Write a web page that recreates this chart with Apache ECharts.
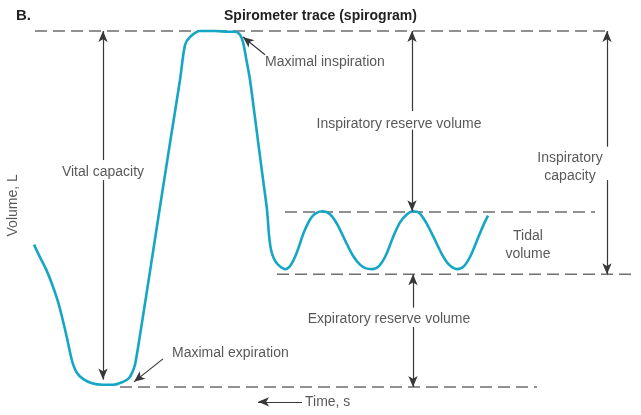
<!DOCTYPE html>
<html>
<head>
<meta charset="utf-8">
<script src="https://cdn.jsdelivr.net/npm/echarts@6/dist/echarts.min.js"></script>
<style>html,body{margin:0;padding:0;background:#fff;}#c{width:641px;height:415px;}</style>
</head>
<body>
<div id="c"></div>
<script>
// Spirogram trace: time (s) vs volume (L)
const curveTime = [0,0.6,1.2,1.8,2.4,2.9,3.3,3.6,3.9,4.3,4.9,5.8,6.9,7.9,8.9,9.5,9.8,10.1,10.6,11.6,12.6,13.6,14.6,15.1,15.6,16.6,18.1,19.4,20.1,20.6,20.9,21.2,21.6,22.1,22.6,23.0,23.3,23.5,23.7,24.0,24.4,25.1,25.7,26.3,27.0,27.7,28.3,28.9,29.6,30.3,31.1,31.9,32.6,33.2,33.8,34.5,35.2,35.9,36.6,37.3,37.9,38.5,39.2,40.0,40.8,41.5,42.3,43.0,43.7,44.4,45.0,45.4];
const curveVolume = [3.12,2.95,2.79,2.59,2.35,2.09,1.86,1.67,1.51,1.39,1.31,1.25,1.23,1.23,1.27,1.32,1.39,1.50,1.90,2.76,3.63,4.49,5.34,5.81,5.92,6.00,6.00,5.99,5.99,5.95,5.85,5.64,5.34,4.83,4.31,3.90,3.59,3.25,3.05,2.93,2.85,2.79,2.85,3.02,3.29,3.48,3.55,3.57,3.53,3.40,3.18,2.97,2.85,2.80,2.79,2.83,2.98,3.22,3.42,3.53,3.57,3.55,3.42,3.21,2.99,2.85,2.79,2.83,2.98,3.21,3.40,3.51];

// Dashed reference levels
const levelNames = ['Maximal inspiration level', 'End tidal inspiration', 'End tidal expiration', 'Maximal expiration level'];
const levelVolume = [6.00, 3.56, 2.72, 1.20];
const levelStart = [0.1, 25.1, 24.3, 8.6];
const levelEnd = [57.1, 56.1, 59.8, 50.3];

// Volume arrows (each drawn as two segments, from text gap to the arrow tip)
const arrowNames = ['Vital capacity', 'Inspiratory reserve volume', 'Inspiratory capacity', 'Expiratory reserve volume'];
const arrowTime = [6.9, 37.8, 57.3, 37.9];
const arrowTop = [6.00, 6.00, 6.00, 2.72];
const arrowBottom = [1.30, 3.57, 2.72, 1.20];
const gapTop = [4.26, 4.92, 4.44, 2.27];
const gapBottom = [3.99, 4.67, 3.99, 2.01];

// Pointer arrows
const pointerFromTime = [23.1, 12.9, 26.8];
const pointerFromVolume = [5.68, 1.58, 1.00];
const pointerToTime = [20.9, 10.0, 22.4];
const pointerToVolume = [5.92, 1.27, 1.00];

// Text annotations
const labelTexts = ['Vital capacity', 'Maximal inspiration', 'Inspiratory reserve volume', 'Inspiratory\ncapacity', 'Tidal\nvolume', 'Expiratory reserve volume', 'Maximal expiration', 'Time, s'];
const labelTime = [6.9, 23.1, 36.5, 53.6, 49.4, 35.5, 13.8, 27.1];
const labelVolume = [4.10, 5.58, 4.75, 4.17, 3.11, 2.12, 1.66, 1.00];
const labelAlign = ['center', 'left', 'center', 'center', 'center', 'center', 'left', 'left'];

const FONT = '"Liberation Sans", Arial, Helvetica, sans-serif';
const TEXT_COLOR = '#2e2e2e';

const chart = echarts.init(document.getElementById('c'), null, {renderer: 'canvas'});

const series = [];
levelNames.forEach((name, i) => {
  series.push({
    name, type: 'line', silent: true, symbol: 'none', animation: false, clip: false,
    data: [[levelStart[i], levelVolume[i]], [levelEnd[i], levelVolume[i]]],
    lineStyle: {color: '#6e6e6e', width: 1.5, type: [12, 6]}
  });
});

const markData = [];
arrowTime.forEach((t, i) => {
  markData.push([{coord: [t, gapTop[i]]}, {coord: [t, arrowTop[i]]}]);
  markData.push([{coord: [t, gapBottom[i]]}, {coord: [t, arrowBottom[i]]}]);
});
pointerFromTime.forEach((t, i) => {
  markData.push([{coord: [t, pointerFromVolume[i]]}, {coord: [pointerToTime[i], pointerToVolume[i]]}]);
});

series.push({
  name: 'Spirometer trace', type: 'line', symbol: 'none', smooth: 0.3, animation: false, clip: false,
  data: curveTime.map((t, i) => [t, curveVolume[i]]),
  lineStyle: {color: '#14a6c4', width: 2.6},
  markLine: {
    silent: true, animation: false,
    symbol: ['none', 'arrow'], symbolSize: [7, 11],
    label: {show: false},
    lineStyle: {color: '#383838', width: 1.2, type: 'solid'},
    emphasis: {disabled: true},
    data: markData
  },
  z: 3
});

series.push({
  name: 'Labels', type: 'scatter', silent: true, animation: false, clip: false,
  symbolSize: 1, itemStyle: {color: 'rgba(0,0,0,0)'},
  data: labelTexts.map((txt, i) => ({
    value: [labelTime[i], labelVolume[i]],
    label: {
      show: true, position: 'inside', formatter: txt,
      align: labelAlign[i], verticalAlign: 'middle',
      color: TEXT_COLOR, fontSize: 14, fontFamily: FONT, lineHeight: 18
    }
  })),
  z: 5
});

series.push({
  name: 'Axis title', type: 'scatter', silent: true, animation: false, clip: false,
  symbolSize: 1, itemStyle: {color: 'rgba(0,0,0,0)'},
  data: [{value: [-2.1, 3.65], label: {show: true, position: 'inside', formatter: 'Volume, L', rotate: 90, align: 'center', verticalAlign: 'middle', color: TEXT_COLOR, fontSize: 14, fontFamily: FONT}}],
  z: 5
});

chart.setOption({
  animation: false,
  backgroundColor: '#fff',
  title: [
    {text: 'B.', left: 11, top: 3, textStyle: {fontSize: 15, fontWeight: 'bold', color: '#222', fontFamily: FONT}},
    {text: 'Spirometer trace (spirogram)', left: 'center', top: 4, textStyle: {fontSize: 14, fontWeight: 'bold', color: '#222', fontFamily: FONT}}
  ],
  grid: {left: 34, right: 9, top: 31, bottom: 2},
  xAxis: {type: 'value', min: 0, max: 59.8, show: false},
  yAxis: {type: 'value', min: 0.85, max: 6.0, show: false},
  series
});
</script>
</body>
</html>
